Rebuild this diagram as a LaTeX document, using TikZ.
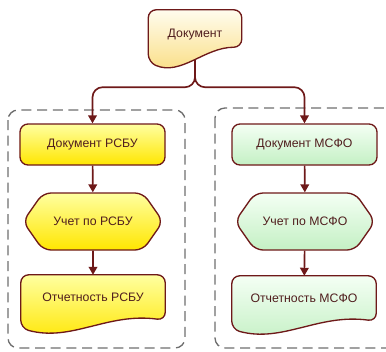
\documentclass[tikz,border=0pt]{standalone}
\usepackage{fontspec}
\setmainfont{Liberation Sans}
\usetikzlibrary{arrows.meta,shapes.symbols,backgrounds,calc}
\definecolor{kontur}{RGB}{110,25,25}
\definecolor{tekst}{RGB}{80,30,30}
\definecolor{zhelt1}{RGB}{255,255,160}
\definecolor{zhelt2}{RGB}{255,230,0}
\definecolor{zelen1}{RGB}{244,255,244}
\definecolor{zelen2}{RGB}{196,240,196}
\definecolor{krem1}{RGB}{255,252,238}
\definecolor{krem2}{RGB}{250,220,125}
\definecolor{seryj}{RGB}{110,110,110}
% лист с волнистым низом: узел, стиль, спуск, контрольные точки
\newcommand{\docshape}[5]{%
  \path[#2, rounded corners=2.4mm] (#1.south east)
    .. controls ($(#1.south west)!0.6!(#1.south east)+(0,#4)$)
    and ($(#1.south west)!0.35!(#1.south east)+(0,#5)$)
    .. ([shift={(0,#3)}]#1.south west)
    -- (#1.north west) -- (#1.north east) -- cycle;}
\begin{document}
\begin{tikzpicture}[x=0.3mm, y=-0.3mm,
  font=\fontsize{10.5}{12}\selectfont, text=tekst,
  blok/.style={draw=kontur, line width=0.4mm, rounded corners=2.4mm,
    minimum width=43.5mm, minimum height=12.3mm, inner sep=0pt},
  shest/.style={shape=signal, signal to=west and east, signal pointer angle=110,
    draw=kontur, line width=0.4mm, rounded corners=2.4mm,
    minimum width=42mm, minimum height=17.1mm, inner sep=0pt},
  listok/.style={minimum width=43.2mm, minimum height=13.5mm, inner sep=0pt},
  kontlist/.style={draw=kontur, line width=0.4mm},
  strelka/.style={draw=kontur, line width=0.5mm, -{Triangle[length=2.4mm,width=2.6mm]}},
  ramka/.style={draw=seryj, line width=0.4mm, dash pattern=on 3mm off 1.7mm, rounded corners=3mm},
  rsbu/.style={top color=zhelt1, bottom color=zhelt2},
  msfo/.style={top color=zelen1, bottom color=zelen2}]
\useasboundingbox (0,0) rectangle (386,351);
% документ
\node[listok, minimum width=27.9mm, minimum height=11.1mm, text height=6.2mm] (dok) at (195,28.5) {Документ};
% РСБУ
\node[blok, rsbu] (dokA) at (92.5,144.5) {Документ РСБУ};
\node[shest, rsbu] (uchA) at (93,221.5) {Учет по РСБУ};
\node[listok] (otchA) at (93,297.5) {Отчетность РСБУ};
% МСФО
\node[blok, msfo] (dokB) at (304.5,144.5) {Документ МСФО};
\node[shest, msfo] (uchB) at (305,221.5) {Учет по МСФО};
\node[listok] (otchB) at (304,298.5) {Отчетность МСФО};
\begin{scope}[on background layer]
% рамки
\draw[ramka] (8,110) rectangle (185,348);
\draw[ramka] (215,108) rectangle (400,348);
% связи
\draw[strelka, rounded corners=3mm] (dok.south) -- ++(0,40) -| (dokA.north);
\draw[strelka, rounded corners=3mm] (dok.south) -- ++(0,40) -| (dokB.north);
\draw[strelka] (dokA) -- (uchA);
\draw[strelka] (uchA) -- (otchA);
\draw[strelka] (dokB) -- (uchB);
\draw[strelka] (uchB) -- (otchB);
% листы
\docshape{dok}{kontlist, top color=krem1, bottom color=krem2}{15}{0}{29}
\docshape{otchA}{kontlist, rsbu}{8}{-8}{22}
\docshape{otchB}{kontlist, msfo}{8}{-8}{22}
\end{scope}
\end{tikzpicture}
\end{document}
